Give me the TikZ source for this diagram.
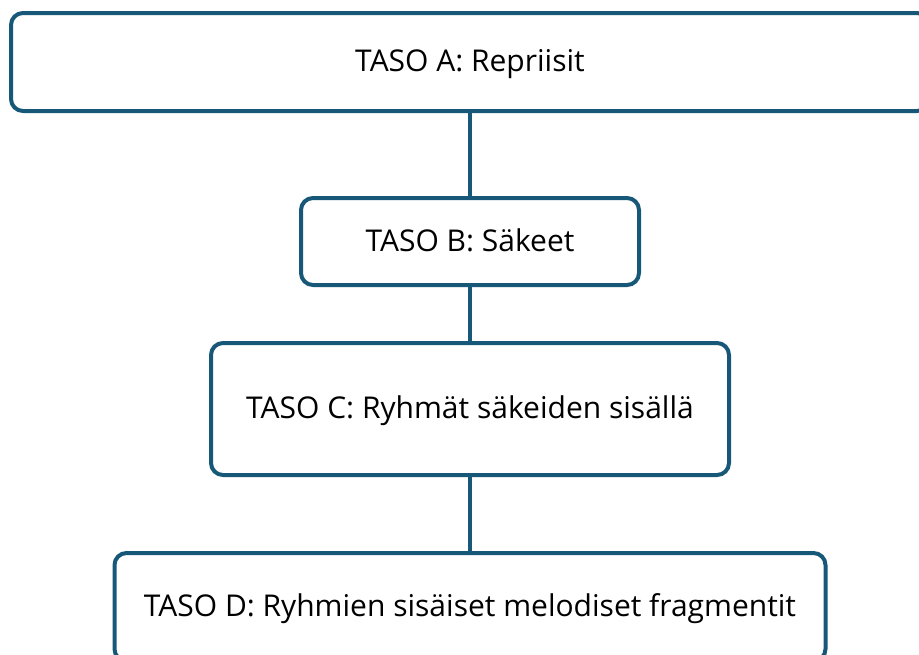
\documentclass[tikz,border=0pt]{standalone}
\usepackage{fontspec}
\setmainfont{Open Sans}
\usetikzlibrary{positioning}
\definecolor{tasoblue}{RGB}{23,88,120}
\begin{document}
\begin{tikzpicture}[x=1pt,y=-1pt,
    taso/.style={draw=tasoblue,line width=4pt,rounded corners=12pt,align=center,
      font=\fontsize{30}{36}\selectfont,inner sep=0pt,text height=22pt,text depth=3pt},
    link/.style={draw=tasoblue,line width=3.5pt}]
  \useasboundingbox (0,0) rectangle (919,654);
  \node[taso,minimum width=918pt,minimum height=98pt] (a) at (470,62) {TASO A: Repriisit};
  \node[taso,minimum width=338pt,minimum height=87pt] (b) at (470,241.5) {TASO B: Säkeet};
  \node[taso,minimum width=518pt,minimum height=132pt] (c) at (470,409) {TASO C: Ryhmät säkeiden sisällä};
  \node[taso,minimum width=711pt,minimum height=108pt] (d) at (470,607) {TASO D: Ryhmien sisäiset melodiset fragmentit};
  \draw[link] (a) -- (b);
  \draw[link] (b) -- (c);
  \draw[link] (c) -- (d);
\end{tikzpicture}
\end{document}
